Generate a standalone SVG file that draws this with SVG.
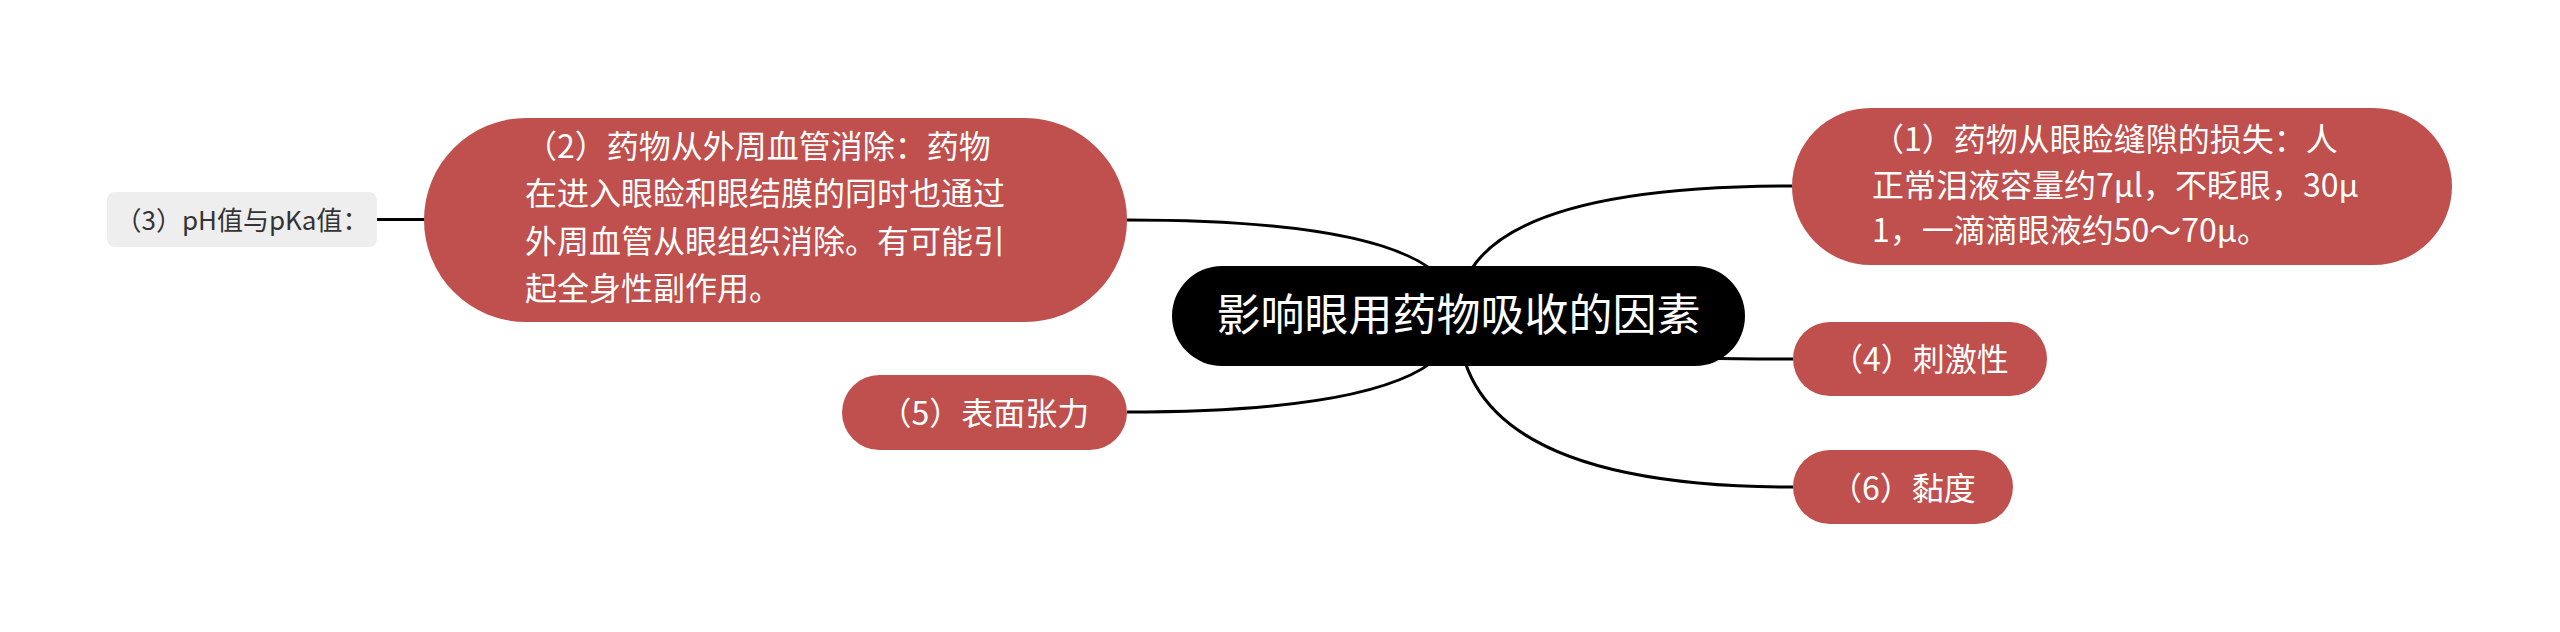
<svg xmlns="http://www.w3.org/2000/svg" width="2560" height="632" viewBox="0 0 2560 632">
<style>
.t{font-family:"Noto Sans CJK SC","Noto Sans",sans-serif;}
.w{fill:#ffffff;font-size:32px;}
.red{fill:#c0504d;}
.conn{fill:none;stroke:#000000;stroke-width:3;}
</style>
<rect width="2560" height="632" fill="#ffffff"/>
<g id="connectors">
<path class="conn" d="M1458 316 Q1458 186 1792 186"/>
<path class="conn" d="M1458 316 Q1458 359 1793 359"/>
<path class="conn" d="M1458 316 Q1458 487 1793 487"/>
<path class="conn" d="M1458 316 Q1458 220 1127 220"/>
<path class="conn" d="M1458 316 Q1458 412 1127 412"/>
<path class="conn" d="M377 219.5 L424 219.5"/>
</g>
<g id="root">
<rect x="1172" y="266" width="573" height="100" rx="50" fill="#000000"/>
<text class="t" x="1458.5" y="331" font-size="44" fill="#ffffff" text-anchor="middle">影响眼用药物吸收的因素</text>
</g>
<g id="node1">
<rect class="red" x="1792" y="108" width="660" height="157" rx="78.5"/>
<text class="t w" x="1872" y="151">（1）药物从眼睑缝隙的损失：人</text>
<text class="t w" x="1872" y="197">正常泪液容量约7μl，不眨眼，30μ</text>
<text class="t w" x="1872" y="242">1，一滴滴眼液约50～70μ。</text>
</g>
<g id="node2">
<rect class="red" x="424" y="118" width="703" height="204" rx="102"/>
<text class="t w" x="525" y="158">（2）药物从外周血管消除：药物</text>
<text class="t w" x="525" y="205">在进入眼睑和眼结膜的同时也通过</text>
<text class="t w" x="525" y="253">外周血管从眼组织消除。有可能引</text>
<text class="t w" x="525" y="300">起全身性副作用。</text>
</g>
<g id="node3">
<rect x="107" y="192" width="270" height="55" rx="8" fill="#eeeeee"/>
<text class="t" x="242" y="230" font-size="26" fill="#333333" text-anchor="middle">（3）pH值与pKa值：</text>
</g>
<g id="node4">
<rect class="red" x="1793" y="322" width="254" height="74" rx="37"/>
<text class="t w" x="1920" y="371" text-anchor="middle">（4）刺激性</text>
</g>
<g id="node5">
<rect class="red" x="842" y="375" width="285" height="75" rx="37.5"/>
<text class="t w" x="984.5" y="425" text-anchor="middle">（5）表面张力</text>
</g>
<g id="node6">
<rect class="red" x="1793" y="450" width="220" height="74" rx="37"/>
<text class="t w" x="1903" y="500" text-anchor="middle">（6）黏度</text>
</g>
</svg>
